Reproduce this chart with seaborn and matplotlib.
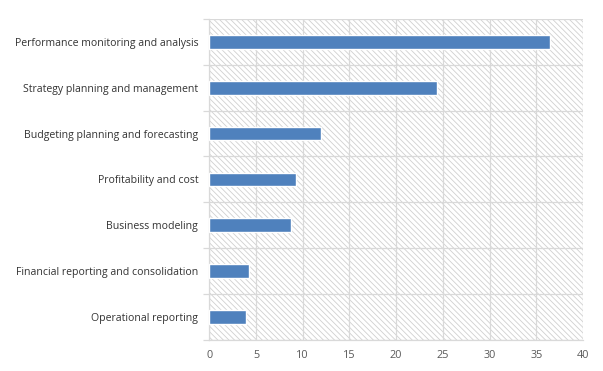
import matplotlib
matplotlib.use("Agg")
import pandas as pd
import seaborn as sns
from matplotlib import pyplot as plt
from matplotlib.patches import Rectangle
from matplotlib.ticker import FixedLocator

categories = [
    "Performance monitoring and analysis",
    "Strategy planning and management",
    "Budgeting planning and forecasting",
    "Profitability and cost",
    "Business modeling",
    "Financial reporting and consolidation",
    "Operational reporting",
]
values = [36.5, 24.4, 12.0, 9.3, 8.7, 4.3, 3.9]
x_ticks = [0, 5, 10, 15, 20, 25, 30, 35, 40]

df = pd.DataFrame({"area": categories, "value": values})

sns.set_theme(style="white")
plt.rcParams["font.family"] = ["Open Sans", "DejaVu Sans"]
plt.rcParams["hatch.linewidth"] = 0.6
plt.rcParams["hatch.color"] = "#cfcfcf"

fig = plt.figure(figsize=(6.03, 3.71), dpi=100)
ax = fig.add_axes([0.347, 0.084, 0.62, 0.865])

# hatched plot background
bg = Rectangle((0, 0), 1, 1, transform=ax.transAxes, facecolor="white",
               edgecolor="#d0d0d0", hatch="\\\\\\\\\\\\", linewidth=0, zorder=0)
ax.add_patch(bg)

sns.barplot(data=df, x="value", y="area", color="#4F81BD", width=0.3,
            saturation=1, ax=ax, zorder=3)

ax.set_xlim(0, 40)
ax.set_ylim(6.5, -0.5)
ax.set_xticks(x_ticks)
ax.set(xlabel="", ylabel="")

# grid: vertical at x ticks, horizontal at category boundaries
ax.yaxis.set_minor_locator(FixedLocator([i - 0.5 for i in range(len(categories) + 1)]))
ax.grid(axis="x", which="major", color="#d9d9d9", linewidth=0.9, zorder=1)
ax.grid(axis="y", which="minor", color="#d9d9d9", linewidth=0.9, zorder=1)
ax.set_axisbelow(True)

ax.tick_params(axis="y", which="major", length=0, pad=8, labelsize=7.6, labelcolor="#333333")
ax.tick_params(axis="y", which="minor", length=4, color="#d9d9d9", width=0.9, left=True)
ax.tick_params(axis="x", length=0, pad=7, labelsize=7.8, labelcolor="#595959")

for s in ["top", "right"]:
    ax.spines[s].set_visible(False)
for s in ["left", "bottom"]:
    ax.spines[s].set_color("#d9d9d9")
    ax.spines[s].set_linewidth(0.9)

fig.savefig("out.png", dpi=100)
